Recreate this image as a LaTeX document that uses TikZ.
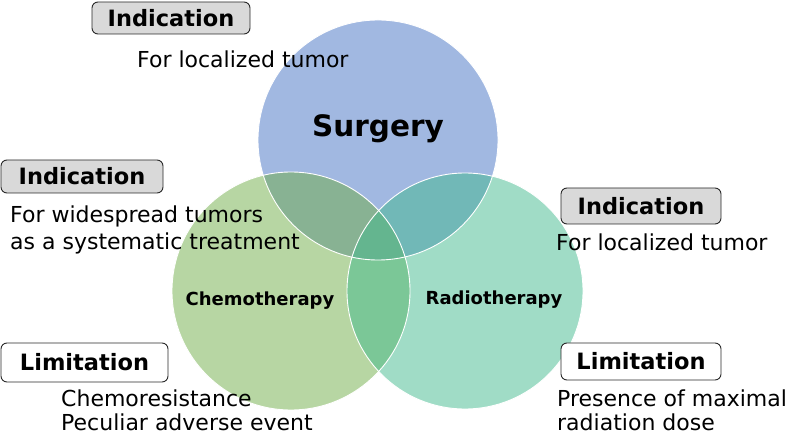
\documentclass[tikz,border=0pt]{standalone}
\usepackage{fontspec}
\setmainfont{DejaVu Sans}
\definecolor{surgc}{RGB}{68,114,196}
\definecolor{chemc}{RGB}{112,173,71}
\definecolor{radic}{RGB}{65,185,141}
\definecolor{boxgray}{RGB}{217,217,217}
\definecolor{boxline}{RGB}{40,40,40}
\tikzset{
  headbox/.style={draw=boxline, line width=0.9pt, rounded corners=6pt, inner sep=0pt,
    font=\fontsize{22.5}{26}\selectfont\bfseries},
  graybox/.style={headbox, fill=boxgray},
  whitebox/.style={headbox, fill=white},
  body/.style={anchor=base west, inner sep=0pt, font=\fontsize{22}{25}\selectfont},
  circlabel/.style={anchor=base, inner sep=0pt, font=\fontsize{18}{20}\selectfont\bfseries},
  rim/.style={white, line width=0.9pt}
}
\begin{document}
\begin{tikzpicture}[x=1pt,y=-1pt]
\useasboundingbox (0,0) rectangle (792,435);
% circles
\coordinate (cs) at (378,140);
\coordinate (cc) at (291,291);
\coordinate (cr) at (465,291);
\fill[surgc, opacity=0.5] (cs) circle (120);
\fill[chemc, opacity=0.5] (cc) circle (119);
\fill[radic, opacity=0.5] (cr) circle (118);
\draw[rim] (cs) circle (120);
\draw[rim] (cc) circle (119);
\draw[rim] (cr) circle (118);
% circle labels
\node[circlabel, font=\fontsize{29.5}{32}\selectfont\bfseries] (surg) at (378,137) {Surgery};
\node[circlabel] (chemo) at (260,306) {Chemotherapy};
\node[circlabel] (radio) at (494,305) {Radiotherapy};
% boxes
\node[graybox, minimum width=158pt, minimum height=32pt] (ind1) at (171,18) {Indication};
\node[graybox, minimum width=162pt, minimum height=33pt] (ind2) at (82,176.5) {Indication};
\node[graybox, minimum width=160pt, minimum height=36pt] (ind3) at (641,206) {Indication};
\node[whitebox, minimum width=167pt, minimum height=39pt] (lim1) at (84.5,362.5) {Limitation};
\node[whitebox, minimum width=160pt, minimum height=37pt] (lim2) at (641,361.5) {Limitation};
% body texts
\node[body] (t1) at (137,68) {For localized tumor};
\node[body] (t2a) at (10,223) {For widespread tumors};
\node[body] (t2b) at (10,250) {as a systematic treatment};
\node[body] (t3) at (556,251) {For localized tumor};
\node[body] (t4a) at (61,406) {Chemoresistance};
\node[body] (t4b) at (61,430) {Peculiar adverse event};
\node[body] (t5a) at (557,406) {Presence of maximal};
\node[body] (t5b) at (557,430) {radiation dose};
\end{tikzpicture}
\end{document}
